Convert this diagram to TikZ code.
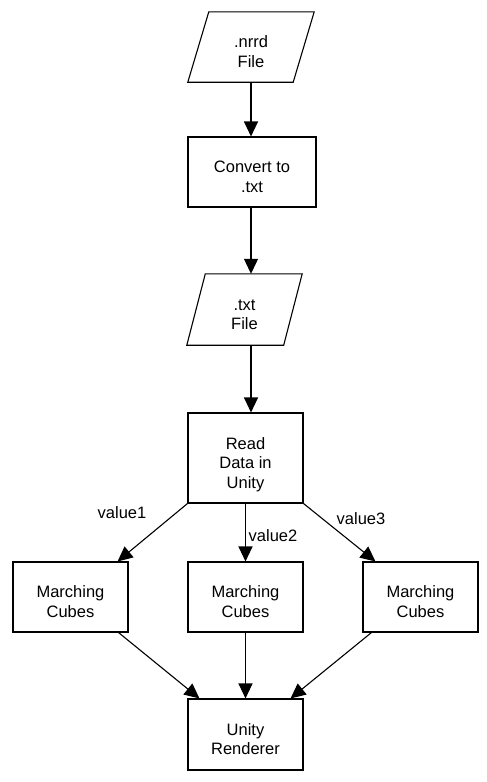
\documentclass[tikz,border=0pt]{standalone}
\usepackage{fontspec}
\setmainfont{Liberation Sans}
\usetikzlibrary{arrows.meta,calc}
\newcommand{\topstrut}{\rule{0pt}{21pt}}
\begin{document}
\begin{tikzpicture}[x=1pt,y=-1pt,
  txt/.style={font=\fontsize{16.5}{19.5}\selectfont},
  box/.style={txt,draw,line width=1.1pt,minimum width=115pt,minimum height=70pt,align=center,inner sep=0pt},
  io/.style={txt,minimum height=70pt,align=center,inner sep=0pt},
  arr/.style={-{Triangle[length=15pt,width=14pt]},line width=1.1pt},
  edge/.style={line width=1.1pt,line join=miter}]
\useasboundingbox (0,0) rectangle (487,782);
\coordinate (col) at (251,0);
% nodes
\node[io,minimum width=126pt] (nrrd) at (251,47) {\topstrut.nrrd\\File};
\draw[edge] ($(nrrd.north west)+(21,0)$) -- (nrrd.north east) -- ($(nrrd.south east)+(-21,0)$) -- (nrrd.south west) -- cycle;
\node[box,minimum width=128pt] (conv) at (252,172) {\topstrut Convert to\\.txt};
\node[io,minimum width=115pt,minimum height=71pt] (tf) at (244.5,309.5) {\topstrut.txt\\File};
\draw[edge] ($(tf.north west)+(18.5,0)$) -- (tf.north east) -- ($(tf.south east)+(-18.5,0)$) -- (tf.south west) -- cycle;
\node[box,minimum height=90pt] (read) at (245.5,458) {\topstrut Read\\Data in\\\raisebox{0pt}[\height][0pt]{Unity}};
\node[box] (mc1) at (70.5,597) {\topstrut Marching\\Cubes};
\node[box] (mc2) at (245.5,597) {\topstrut Marching\\Cubes};
\node[box] (mc3) at (420.5,597) {\topstrut Marching\\Cubes};
\node[box,minimum height=71pt] (ur) at (245.5,734.5) {\topstrut Unity\\Renderer};
% connectors
\draw[arr] (nrrd.south -| col) -- (conv.north -| col);
\draw[arr] (conv.south -| col) -- (tf.north -| col);
\draw[arr] (tf.south -| col) -- (read.north -| col);
\draw[arr] (read.south west) -- ($(mc1.north east)+(-11,0)$);
\draw[arr] (read.south) -- (mc2.north);
\draw[arr] (read.south east) -- ($(mc3.north west)+(13,0)$);
\draw[arr] ($(mc1.south east)+(-10,0)$) -- ($(ur.north west)+(12,0)$);
\draw[arr] (mc2.south) -- (ur.north);
\draw[arr] ($(mc3.south west)+(9,0)$) -- ($(ur.north east)+(-13,0)$);
% labels
\node[txt,inner sep=0pt] (l1) at (122,513) {value1};
\node[txt,inner sep=0pt] (l2) at (273,536) {value2};
\node[txt,inner sep=0pt] (l3) at (361,519) {value3};
\end{tikzpicture}
\end{document}
